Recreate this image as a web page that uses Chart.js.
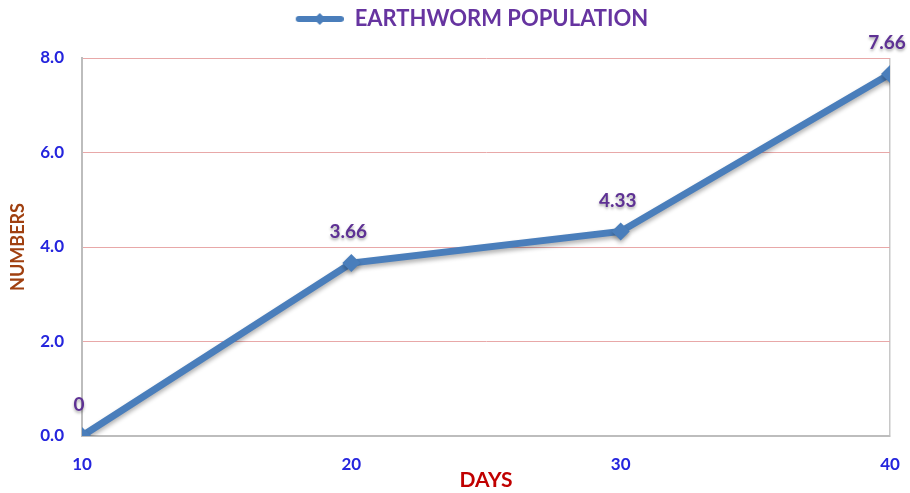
<!DOCTYPE html>
<html>
<head>
<meta charset="utf-8">
<script src="https://cdn.jsdelivr.net/npm/chart.js@4.4.0/dist/chart.umd.min.js"></script>
<style>
  html, body { margin: 0; padding: 0; background: #fff; }
  #wrap { width: 910px; height: 493px; }
</style>
</head>
<body>
<div id="wrap"><canvas id="wormChart"></canvas></div>
<script>
const DAYS = [10, 20, 30, 40];
const POPULATION = [0, 3.66, 4.33, 7.66];
const POINT_LABELS = ["0", "3.66", "4.33", "7.66"];
const SERIES_NAME = "EARTHWORM POPULATION";

const LINE_BLUE = "#4a7ebb";
const LABEL_PURPLE = "#5e3194";

// legend marker: a short line with a diamond in the middle.
// the blank strip on the left nudges the whole legend a bit to the right
function legendMarker() {
  let c = document.createElement("canvas");
  c.width = 82;
  c.height = 14;
  let g = c.getContext("2d");
  g.strokeStyle = LINE_BLUE;
  g.lineWidth = 6;
  g.lineCap = "round";
  g.beginPath();
  g.moveTo(37, 7);
  g.lineTo(79, 7);
  g.stroke();
  g.fillStyle = LINE_BLUE;
  g.beginPath();
  g.moveTo(58, 1);
  g.lineTo(64, 7);
  g.lineTo(58, 13);
  g.lineTo(52, 7);
  g.closePath();
  g.fill();
  return c;
}

// values above each point, with a soft shadow like the original
const pointLabels = {
  id: "pointLabels",
  afterDatasetsDraw(chart) {
    let ctx = chart.ctx;
    let meta = chart.getDatasetMeta(0);
    ctx.save();
    ctx.font = "bold 19px Lato";
    ctx.fillStyle = LABEL_PURPLE;
    ctx.textAlign = "center";
    ctx.textBaseline = "middle";
    ctx.shadowColor = "rgba(0,0,0,0.35)";
    ctx.shadowOffsetY = 2;
    ctx.shadowBlur = 3;
    meta.data.forEach((pt, i) => {
      ctx.fillText(POINT_LABELS[i], pt.x - 3, pt.y - 31);
    });
    ctx.restore();
  },
};

// slight shadow under the line, as in the spreadsheet chart
const lineShadow = {
  id: "lineShadow",
  beforeDatasetDraw(chart) {
    let ctx = chart.ctx;
    ctx.save();
    ctx.shadowColor = "rgba(0,0,0,0.3)";
    ctx.shadowOffsetY = 3;
    ctx.shadowBlur = 4;
  },
  afterDatasetDraw(chart) {
    chart.ctx.restore();
  },
};

let ctx = document.querySelector("#wormChart");

new Chart(ctx, {
  type: "line",
  data: {
    datasets: [
      {
        label: SERIES_NAME,
        data: DAYS.map((d, i) => ({ x: d, y: POPULATION[i] })),
        borderColor: LINE_BLUE,
        backgroundColor: LINE_BLUE,
        borderWidth: 7,
        pointStyle: "rectRot",
        pointRadius: 9,
        pointHoverRadius: 9,
        pointBorderWidth: 0,
        tension: 0,
      },
    ],
  },
  options: {
    responsive: true,
    maintainAspectRatio: false,
    animation: false,
    layout: {
      padding: { left: 0, right: 0, top: 0, bottom: 0 },
    },
    plugins: {
      tooltip: { enabled: false },
      // empty title used only as a spacer between legend and plot
      title: {
        display: true,
        text: " ",
        weight: 500,
        font: { size: 10 },
        padding: { top: 0, bottom: 6 },
      },
      legend: {
        labels: {
          color: "#6634a0",
          font: { family: "Lato", size: 22, weight: "bold" },
          usePointStyle: true,
          pointStyleWidth: 82,
          generateLabels: (chart) => [
            {
              text: SERIES_NAME,
              pointStyle: legendMarker(),
              fillStyle: LINE_BLUE,
              strokeStyle: LINE_BLUE,
              lineWidth: 0,
              datasetIndex: 0,
              fontColor: "#6634a0",
            },
          ],
          padding: 8,
        },
      },
    },
    scales: {
      x: {
        type: "linear",
        min: 10,
        max: 40,
        afterFit: (scale) => {
          scale.height = 57;
          scale.paddingRight = 20;
        },
        ticks: {
          stepSize: 10,
          padding: 18,
          color: "#2525dd",
          font: { family: "Lato", size: 17, weight: "bold" },
        },
        grid: {
          drawTicks: false,
          color: (c) => (c.tick && c.tick.value === 40 ? "#c8c8c8" : "rgba(0,0,0,0)"),
          lineWidth: 1.5,
        },
        border: { display: true, color: "#bdbdbd", width: 2 },
        title: {
          display: true,
          text: "DAYS",
          color: "#c00000",
          font: { family: "Lato", size: 21, weight: "bold" },
          padding: { top: 0, bottom: 0 },
        },
      },
      y: {
        min: 0,
        max: 8,
        afterFit: (scale) => {
          scale.width = 82;
        },
        ticks: {
          stepSize: 2,
          padding: 18,
          color: "#2525dd",
          font: { family: "Lato", size: 17, weight: "bold" },
          callback: (v) => v.toFixed(1),
        },
        grid: {
          drawTicks: false,
          color: (c) => (c.tick && c.tick.value === 0 ? "rgba(0,0,0,0)" : "#e8a8a8"),
          lineWidth: 1,
        },
        border: { display: true, color: "#bdbdbd", width: 2 },
        title: {
          display: true,
          text: "NUMBERS",
          color: "#a04010",
          font: { family: "Lato", size: 18, weight: "bold" },
          padding: { top: 7, bottom: 0 },
        },
      },
    },
  },
  plugins: [lineShadow, pointLabels],
});
</script>
</body>
</html>
